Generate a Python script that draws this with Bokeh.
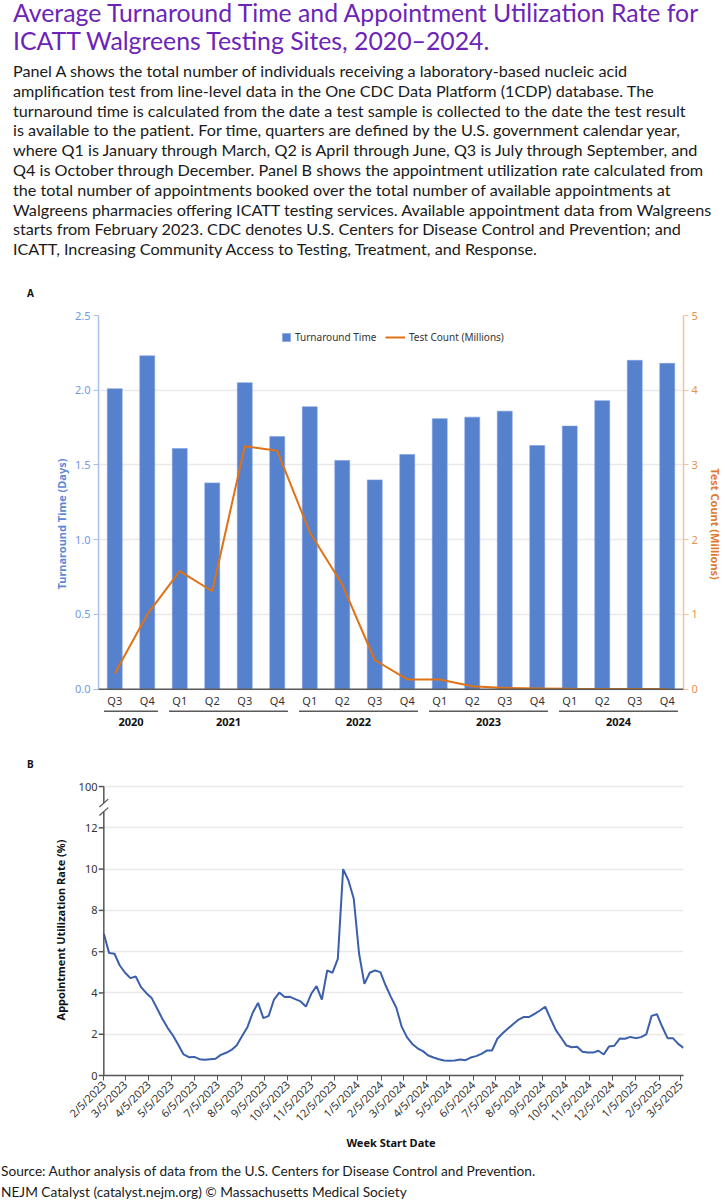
import math
import pandas as pd
from bokeh.plotting import figure
from bokeh.layouts import column
from bokeh.models import (Range1d, LinearAxis, FixedTicker, Span, Legend, LegendItem,
                          Div, ColumnDataSource, NumeralTickFormatter)
from bokeh.core.properties import value
from bokeh.embed import file_html
from bokeh.resources import INLINE

# ---------------- data ----------------
years = ["2020", "2020", "2021", "2021", "2021", "2021", "2022", "2022", "2022", "2022",
         "2023", "2023", "2023", "2023", "2024", "2024", "2024", "2024"]
quarters = ["Q3", "Q4", "Q1", "Q2", "Q3", "Q4", "Q1", "Q2", "Q3", "Q4",
            "Q1", "Q2", "Q3", "Q4", "Q1", "Q2", "Q3", "Q4"]
turnaround_days = [2.01, 2.23, 1.61, 1.38, 2.05, 1.69, 1.89, 1.53, 1.40, 1.57,
                   1.81, 1.82, 1.86, 1.63, 1.76, 1.93, 2.20, 2.18]
test_count_millions = [0.21, 1.00, 1.58, 1.31, 3.25, 3.19, 2.10, 1.40, 0.39, 0.13,
                       0.13, 0.04, 0.015, 0.01, 0.005, 0.003, 0.002, 0.002]
left_ticks = [0.0, 0.5, 1.0, 1.5, 2.0, 2.5]
right_ticks = [0, 1, 2, 3, 4, 5]

first_week = "2023-02-05"
utilization_rate = [
    6.87, 5.93, 5.90, 5.33, 4.98, 4.72, 4.80, 4.28, 3.99, 3.75,
    3.26, 2.75, 2.31, 1.94, 1.49, 1.02, 0.89, 0.90, 0.79, 0.76,
    0.79, 0.81, 1.00, 1.10, 1.24, 1.47, 1.91, 2.34, 3.04, 3.52,
    2.78, 2.89, 3.68, 4.02, 3.80, 3.81, 3.70, 3.59, 3.34, 3.96,
    4.33, 3.68, 5.09, 4.98, 5.65, 10.0, 9.45, 8.56, 5.90, 4.44,
    4.98, 5.09, 5.01, 4.36, 3.80, 3.28, 2.37, 1.86, 1.53, 1.32,
    1.18, 0.97, 0.87, 0.79, 0.73, 0.71, 0.73, 0.78, 0.74, 0.87,
    0.94, 1.05, 1.21, 1.21, 1.78, 2.05, 2.28, 2.50, 2.71, 2.84,
    2.84, 2.99, 3.15, 3.33, 2.75, 2.20, 1.83, 1.45, 1.37, 1.39,
    1.15, 1.11, 1.11, 1.20, 1.02, 1.41, 1.44, 1.79, 1.78, 1.87,
    1.81, 1.86, 1.99, 2.89, 2.97, 2.36, 1.81, 1.81, 1.53, 1.34,
]
date_tick_labels = ["2/5/2023", "3/5/2023", "4/5/2023", "5/5/2023", "6/5/2023", "7/5/2023",
                    "8/5/2023", "9/5/2023", "10/5/2023", "11/5/2023", "12/5/2023",
                    "1/5/2024", "2/5/2024", "3/5/2024", "4/5/2024", "5/5/2024", "6/5/2024",
                    "7/5/2024", "8/5/2024", "9/5/2024", "10/5/2024", "11/5/2024", "12/5/2024",
                    "1/5/2025", "2/5/2025", "3/5/2025"]
rate_ticks = [0, 2, 4, 6, 8, 10, 12, 14]
rate_tick_labels = ["0", "2", "4", "6", "8", "10", "12", "100"]
axis_break = (12.79, 13.2)   # where the y axis is cut (12 ... 100)

FONT = "Noto Sans"

# ---------------- header ----------------
title_lines = ["Average Turnaround Time and Appointment Utilization Rate for",
               "ICATT Walgreens Testing Sites, 2020\u20132024."]
para_lines = [
    "Panel A shows the total number of individuals receiving a laboratory-based nucleic acid",
    "amplification test from line-level data in the One CDC Data Platform (1CDP) database. The",
    "turnaround time is calculated from the date a test sample is collected to the date the test result",
    "is available to the patient. For time, quarters are defined by the U.S. government calendar year,",
    "where Q1 is January through March, Q2 is April through June, Q3 is July through September, and",
    "Q4 is October through December. Panel B shows the appointment utilization rate calculated from",
    "the total number of appointments booked over the total number of available appointments at",
    "Walgreens pharmacies offering ICATT testing services. Available appointment data from Walgreens",
    "starts from February 2023. CDC denotes U.S. Centers for Disease Control and Prevention; and",
    "ICATT, Increasing Community Access to Testing, Treatment, and Response.",
]
footer_lines = ["Source: Author analysis of data from the U.S. Centers for Disease Control and Prevention.",
                "NEJM Catalyst (catalyst.nejm.org) \u00a9 Massachusetts Medical Society"]

header_html = (
    '<div style="position:relative;width:725px;height:300px;font-family:Lato,sans-serif;">'
    '<div style="position:absolute;left:13px;top:-1px;font-size:24.8px;line-height:28px;'
    'color:#6c24b8;white-space:nowrap;">' + "<br>".join(title_lines) + '</div>'
    '<div style="position:absolute;left:13px;top:61px;font-size:16.2px;line-height:19.8px;'
    'color:#1a1a1a;white-space:nowrap;">' + "<br>".join(para_lines) + '</div>'
    '<div style="position:absolute;left:27px;top:287px;font-size:10px;line-height:12px;'
    'font-weight:bold;font-family:\'Noto Sans\';color:#111;">A</div>'
    '</div>'
)
header = Div(text=header_html, width=725, height=300, margin=0)

b_div = Div(text='<div style="position:relative;width:725px;height:35px;">'
                 '<div style="position:absolute;left:27px;top:18px;font-size:10px;line-height:12px;'
                 'font-weight:bold;font-family:\'Noto Sans\';color:#111;">B</div></div>',
            width=725, height=35, margin=0)

footer = Div(text='<div style="position:relative;width:725px;height:45px;font-family:Lato,sans-serif;">'
                  '<div style="position:absolute;left:1px;top:5px;font-size:13.7px;line-height:21px;'
                  'color:#1a1a1a;white-space:nowrap;">' + "<br>".join(footer_lines) + '</div></div>',
             width=725, height=45, margin=0)

# ---------------- panel A ----------------
n = len(quarters)
xs = [i + 0.5 for i in range(n)]
pa = figure(width=725, height=440, x_range=Range1d(0, n), y_range=Range1d(-0.29, 2.5),
            x_axis_location=None, y_axis_location=None, title=None,
            output_backend="svg", toolbar_location=None, margin=0,
            min_border_left=98, min_border_right=36, min_border_top=15, min_border_bottom=8)
pa.outline_line_color = None
pa.extra_y_ranges = {"count": Range1d(-0.58, 5)}
pa.xgrid.visible = False
pa.ygrid.grid_line_color = "#e9e9e9"
pa.ygrid.grid_line_width = 1.5
pa.ygrid.bounds = (0, 2.5)
pa.ygrid.ticker = FixedTicker(ticks=left_ticks)

src_a = ColumnDataSource(dict(x=xs, tat=turnaround_days, cnt=test_count_millions,
                              q=quarters, yr=years))
bars = pa.vbar(x="x", top="tat", width=0.46, bottom=0, source=src_a,
               fill_color="#5581cd", line_color="#7d9ee0", line_width=0.6)
line = pa.line(x="x", y="cnt", source=src_a, y_range_name="count",
               line_color="#df7215", line_width=2)
pa.add_layout(Span(location=0, dimension="width", line_color="#5a5a5a", line_width=1.5))

lax = LinearAxis(ticker=FixedTicker(ticks=left_ticks), bounds=(0, 2.5),
                 formatter=NumeralTickFormatter(format="0.0"),
                 axis_label="Turnaround Time (Days)")
rax = LinearAxis(ticker=FixedTicker(ticks=right_ticks), bounds=(0, 5), y_range_name="count",
                 axis_label="Test Count (Millions)")
for ax, lc, tc, alc in [(lax, "#aac0ea", "#729ade", "#5d88d8"),
                        (rax, "#f3c39d", "#e8924c", "#e07a2b")]:
    ax.axis_line_color = lc
    ax.axis_line_width = 1.5
    ax.major_tick_line_color = lc
    ax.major_tick_out = 5
    ax.major_tick_in = 0
    ax.minor_tick_out = 0
    ax.minor_tick_in = 0
    ax.major_label_text_color = tc
    ax.major_label_text_font = FONT
    ax.major_label_text_font_size = "11px"
    ax.major_label_standoff = 3
    ax.axis_label_text_color = alc
    ax.axis_label_text_font = FONT
    ax.axis_label_text_font_style = "bold"
    ax.axis_label_text_font_size = "11px"
lax.axis_label_standoff = 3
rax.axis_label_standoff = 7
pa.add_layout(lax, "left")
pa.add_layout(rax, "right")

# quarter labels, group lines, year labels below the baseline
pa.text(x="x", y=-0.076, text="q", source=src_a, text_align="center", text_baseline="middle",
        text_font=value(FONT), text_font_size="11px", text_color="#333333")
groups = []
for y in dict.fromkeys(years):
    idx = [i for i, v in enumerate(years) if v == y]
    groups.append((y, idx[0], idx[-1]))
src_g = ColumnDataSource(dict(
    x0=[g[1] + 0.17 for g in groups], x1=[g[2] + 1 - 0.17 for g in groups],
    xc=[(g[1] + g[2] + 1) / 2 for g in groups], label=[g[0] for g in groups]))
pa.segment(x0="x0", x1="x1", y0=-0.147, y1=-0.147, source=src_g, line_color="#5a5a5a", line_width=1.5)
pa.text(x="xc", y=-0.222, text="label", source=src_g, text_align="center", text_baseline="middle",
        text_font=value(FONT), text_font_size="11px", text_font_style="bold", text_color="#111111")

leg_common = dict(orientation="horizontal", border_line_color=None, background_fill_alpha=0,
                  padding=0, margin=0, label_text_font=FONT, label_text_font_size="10px",
                  label_text_color="#333333", label_standoff=4, label_height=20)
leg1 = Legend(items=[LegendItem(label="Turnaround Time", renderers=[bars])],
              location=(183, 385), glyph_width=10, glyph_height=10, **leg_common)
leg2 = Legend(items=[LegendItem(label="Test Count (Millions)", renderers=[line])],
              location=(287, 385), glyph_width=20, glyph_height=10, **leg_common)
pa.add_layout(leg1)
pa.add_layout(leg2)

# ---------------- panel B ----------------
week_dates = pd.date_range(first_week, periods=len(utilization_rate), freq="7D")
tick_dates = pd.to_datetime(date_tick_labels, format="%m/%d/%Y")
tick_ms = [float(t.value // 10**6) for t in tick_dates]
day = pd.Timedelta(days=1)
x0_date = week_dates[0]
x_start = x0_date - 7 * day          # room left of the y axis line for its ticks and break mark
y_top = 14.1                         # a little room so the "100" grid line is not clipped

pb = figure(width=725, height=380, x_axis_type="datetime",
            x_range=Range1d(x_start, week_dates[-1]), y_range=Range1d(0, y_top),
            title=None, output_backend="svg", toolbar_location=None, margin=0,
            min_border_left=93, min_border_right=37, min_border_top=9, min_border_bottom=80)
pb.outline_line_color = None
pb.xgrid.visible = False
pb.ygrid.ticker = FixedTicker(ticks=rate_ticks[1:])
pb.ygrid.grid_line_color = "#e9e9e9"
pb.ygrid.grid_line_width = 1.5
# white mask left of the y axis line so grid lines start at the axis
pb.quad(left=[x_start], right=[x0_date], bottom=[0], top=[y_top],
        fill_color="white", line_color=None)
pb.line(x=week_dates, y=utilization_rate, line_color="#3b5fab", line_width=2)

xa = pb.xaxis[0]
xa.ticker = FixedTicker(ticks=tick_ms)
xa.major_label_overrides = dict(zip(tick_ms, date_tick_labels))
xa.major_label_orientation = math.pi / 4
xa.bounds = (float(x0_date.value // 10**6), float(week_dates[-1].value // 10**6))
xa.axis_label = "Week Start Date"
ya = pb.yaxis[0]
ya.ticker = FixedTicker(ticks=rate_ticks)
ya.major_label_overrides = dict(zip(rate_ticks, rate_tick_labels))
ya.axis_label = "Appointment Utilization Rate (%)"
for ax in (xa, ya):
    ax.axis_line_color = "#555555"
    ax.axis_line_width = 1.5
    ax.major_tick_line_color = "#555555"
    ax.major_tick_out = 5
    ax.major_tick_in = 0
    ax.minor_tick_out = 0
    ax.minor_tick_in = 0
    ax.major_label_text_color = "#333333"
    ax.major_label_text_font = FONT
    ax.major_label_text_font_size = "11px"
    ax.major_label_standoff = 2
    ax.axis_label_text_color = "#111111"
    ax.axis_label_text_font = FONT
    ax.axis_label_text_font_style = "bold"
    ax.axis_label_text_font_size = "11px"
xa.axis_label_standoff = 2
# y axis: labels from the axis, line + ticks drawn at the first week (inside the frame)
ya.axis_line_color = None
ya.major_tick_line_color = None
ya.major_tick_out = 0
ya.major_label_standoff = 1
ya.axis_label_standoff = 8

b_lo, b_hi = axis_break
pb.segment(x0=[x0_date, x0_date], x1=[x0_date, x0_date], y0=[0, b_hi], y1=[b_lo, rate_ticks[-1]],
           line_color="#555555", line_width=1.5, level="overlay")
pb.segment(x0=[x0_date - 6.6 * day] * len(rate_ticks), x1=[x0_date] * len(rate_ticks),
           y0=rate_ticks, y1=rate_ticks, line_color="#555555", line_width=1.5, level="overlay")
pb.segment(x0=[x0_date - 5.8 * day] * 2, x1=[x0_date + 5.8 * day] * 2,
           y0=[b_lo - 0.19, b_hi - 0.19], y1=[b_lo + 0.19, b_hi + 0.19],
           line_color="#555555", line_width=1.2, level="overlay")

root = column(header, pa, b_div, pb, footer, spacing=0)
open("out.html", "w").write(file_html(root, INLINE))
